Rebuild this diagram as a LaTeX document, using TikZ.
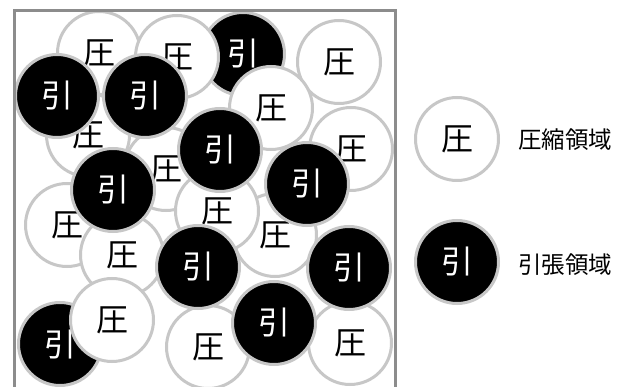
\documentclass[tikz,border=0pt]{standalone}
\usepackage{fontspec}
\setmainfont{Noto Sans CJK JP}
\begin{document}
\begin{tikzpicture}[x=1pt,y=-1pt,
  wc/.style={circle,draw=black!22,line width=3pt,fill=white,minimum size=83pt,inner sep=0pt,font=\fontsize{32}{33}\selectfont,text=black},
  bc/.style={circle,draw=black!22,line width=3pt,fill=black,minimum size=83pt,inner sep=0pt,font=\fontsize{32}{33}\selectfont,text=white},
  lbl/.style={anchor=west,inner sep=0pt,font=\fontsize{23.5}{24}\selectfont}]
\useasboundingbox (0,0) rectangle (624,387);
\begin{scope}
\clip (14,10) rectangle (395,400);
\node[bc] (b1) at (243,54) {引};
\node[wc] (w1) at (99,53) {圧};
\node[wc] (w2) at (177,57) {圧};
\node[wc] (w3) at (339,62) {圧};
\node[wc] (w4) at (271,108) {圧};
\node[wc] (w5) at (351,149) {圧};
\node[wc] (w6) at (88,135) {圧};
\node[wc] (w7) at (166,169) {圧};
\node[wc] (w9) at (67,225) {圧};
\node[wc] (w12) at (275,235) {圧};
\node[wc] (w10) at (217,211) {圧};
\node[wc] (w11) at (122,255) {圧};
\node[wc] (w14) at (208,347) {圧};
\node[wc] (w15) at (350,343) {圧};
\node[bc] (b10) at (60,344) {引};
\node[wc] (w13) at (112,320) {圧};
\node[bc] (b2) at (57,96) {引};
\node[bc] (b3) at (145,96) {引};
\node[bc] (b4) at (220,150) {引};
\node[bc] (b5) at (307,184) {引};
\node[bc] (b6) at (113,190) {引};
\node[bc] (b7) at (198,267) {引};
\node[bc] (b8) at (349,268) {引};
\node[bc] (b9) at (274,323) {引};
\end{scope}
\draw[line width=3pt,draw=black!45] (14.5,400) -- (14.5,10.5) -- (395.5,10.5) -- (395.5,400);
\node[wc] (lw) at (457,139) {圧};
\node[bc] (lb) at (457,262) {引};
\node[lbl] (tw) at (518,140) {圧縮領域};
\node[lbl] (tb) at (518,265) {引張領域};
\end{tikzpicture}
\end{document}
